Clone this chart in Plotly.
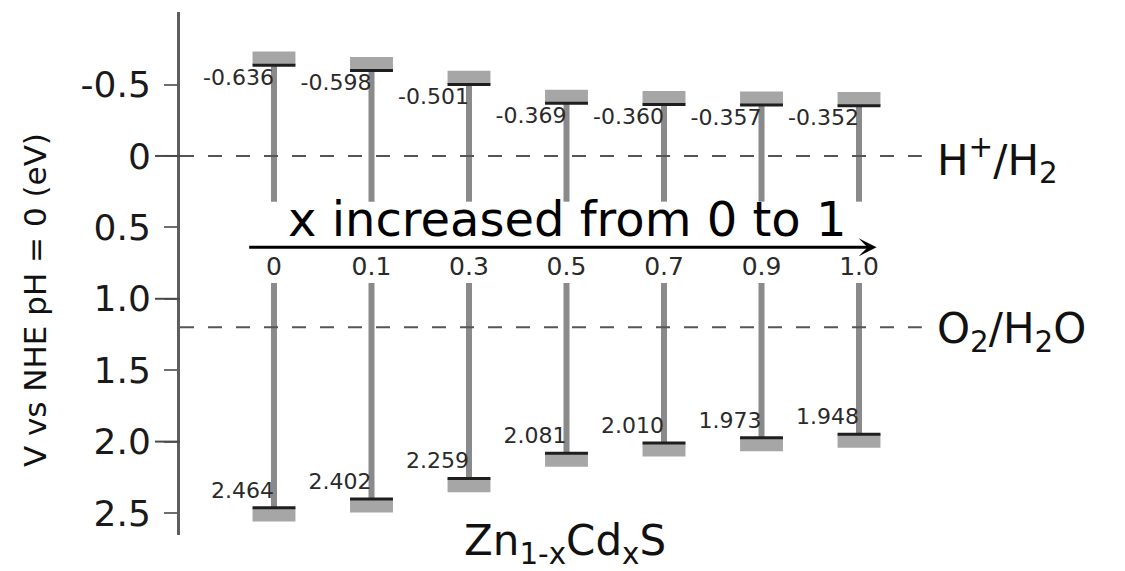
import plotly.graph_objects as go

# Zn(1-x)Cd(x)S band-edge positions (V vs NHE, pH = 0)
compositions = ["0", "0.1", "0.3", "0.5", "0.7", "0.9", "1.0"]
cb_edges = [-0.636, -0.598, -0.501, -0.369, -0.360, -0.357, -0.352]
vb_edges = [2.464, 2.402, 2.259, 2.081, 2.010, 1.973, 1.948]

# reference redox potentials
h_level = 0.0
o_level = 1.2

y_ticks = [-0.5, 0, 0.5, 1.0, 1.5, 2.0, 2.5]
y_ticktext = ["-0.5", "0", "0.5", "1.0", "1.5", "2.0", "2.5"]
long_ticks = [0, 1.0, 2.0]

FONT = "DejaVu Sans"
xs = list(range(len(compositions)))

box_h = 0.095       # height of the gray level blocks (eV)
box_w = 0.44        # width of the level blocks (category units)
stem_top_end = 0.32
stem_bot_start = 0.89

fig = go.Figure()

# gray level blocks above the CB edge and below the VB edge
fig.add_trace(go.Bar(x=xs, y=[box_h] * len(xs), base=[c - box_h for c in cb_edges],
                     width=box_w, marker=dict(color="#a6a6a6", line_width=0),
                     hoverinfo="skip"))
fig.add_trace(go.Bar(x=xs, y=[box_h] * len(xs), base=vb_edges,
                     width=box_w, marker=dict(color="#a6a6a6", line_width=0),
                     hoverinfo="skip"))

# vertical stems
sx, sy = [], []
for i, c, v in zip(xs, cb_edges, vb_edges):
    sx += [i, i, None, i, i, None]
    sy += [c, stem_top_end, None, stem_bot_start, v, None]
fig.add_trace(go.Scatter(x=sx, y=sy, mode="lines",
                         line=dict(color="#8a8a8a", width=6), hoverinfo="skip"))

# dark edge lines marking each band edge
ex, ey = [], []
for i, c, v in zip(xs, cb_edges, vb_edges):
    ex += [i - box_w / 2, i + box_w / 2, None, i - box_w / 2, i + box_w / 2, None]
    ey += [c, c, None, v, v, None]
fig.add_trace(go.Scatter(x=ex, y=ey, mode="lines",
                         line=dict(color="#1e1e1e", width=3), hoverinfo="skip"))

# value labels
fig.add_trace(go.Scatter(x=xs, y=[c + 0.1 for c in cb_edges], mode="text",
                         text=[f"{c:.3f}" for c in cb_edges], textposition="middle left",
                         textfont=dict(family=FONT, size=22, color="#2a2a2a"),
                         cliponaxis=False, hoverinfo="skip"))
fig.add_trace(go.Scatter(x=xs, y=[v - 0.11 for v in vb_edges], mode="text",
                         text=[f"{v:.3f}" for v in vb_edges], textposition="middle left",
                         textfont=dict(family=FONT, size=22, color="#2a2a2a"),
                         cliponaxis=False, hoverinfo="skip"))

# composition labels under the arrow
fig.add_trace(go.Scatter(x=xs, y=[0.79] * len(xs), mode="text", text=compositions,
                         textposition="middle center",
                         textfont=dict(family=FONT, size=25, color="#2a2a2a"),
                         cliponaxis=False, hoverinfo="skip"))

shapes = []
for lvl in (h_level, o_level):
    shapes.append(dict(type="line", xref="paper", yref="y", x0=0, x1=0.785,
                       y0=lvl, y1=lvl, line=dict(color="#555555", width=2, dash="14px,14px")))
for t in long_ticks:
    shapes.append(dict(type="line", xref="paper", yref="y", x0=-25 / 945, x1=0,
                       y0=t, y1=t, line=dict(color="#4a4a4a", width=2)))

annotations = [
    # composition arrow
    dict(x=6.18, y=0.64, ax=-0.27, ay=0.64, xref="x", yref="y", axref="x", ayref="y",
         text="", showarrow=True, arrowhead=3, arrowsize=1, arrowwidth=3, arrowcolor="black"),
    dict(x=3, y=0.44, xref="x", yref="y", text="x increased from 0 to 1", showarrow=False,
         font=dict(family=FONT, size=48, color="black")),
    dict(x=0.799, y=h_level + 0.03, xref="paper", yref="y", xanchor="left", yanchor="middle",
         text="H<sup>+</sup>/H<sub>2</sub>", showarrow=False,
         font=dict(family=FONT, size=42, color="#111111")),
    dict(x=0.799, y=o_level + 0.03, xref="paper", yref="y", xanchor="left", yanchor="middle",
         text="O<sub>2</sub>/H<sub>2</sub>O", showarrow=False,
         font=dict(family=FONT, size=42, color="#111111")),
    dict(x=0.407, y=-0.017, xref="paper", yref="paper", xanchor="center", yanchor="middle",
         text="Zn<sub>1-x</sub>Cd<sub>x</sub>S", showarrow=False,
         font=dict(family=FONT, size=42, color="#111111")),
    dict(x=-0.1535, y=0.449, xref="paper", yref="paper", xanchor="center", yanchor="middle",
         text="V vs NHE pH = 0 (eV)", textangle=-90, showarrow=False,
         font=dict(family=FONT, size=31, color="#111111")),
]

fig.update_layout(
    width=1125, height=571,
    margin=dict(l=180, r=0, t=12, b=36),
    paper_bgcolor="white", plot_bgcolor="white",
    showlegend=False, barmode="overlay",
    shapes=shapes, annotations=annotations,
    xaxis=dict(visible=False, range=[-0.964, 8.728]),
    yaxis=dict(range=[2.654, -1.008], showgrid=False, zeroline=False,
               showline=True, linecolor="#5e5e5e", linewidth=3,
               ticks="outside", ticklen=13, tickwidth=2, tickcolor="#6e6e6e",
               tickvals=y_ticks, ticktext=y_ticktext, ticklabelstandoff=6,
               tickfont=dict(family=FONT, size=36, color="#1a1a1a")),
)

fig.write_html("out.html")
